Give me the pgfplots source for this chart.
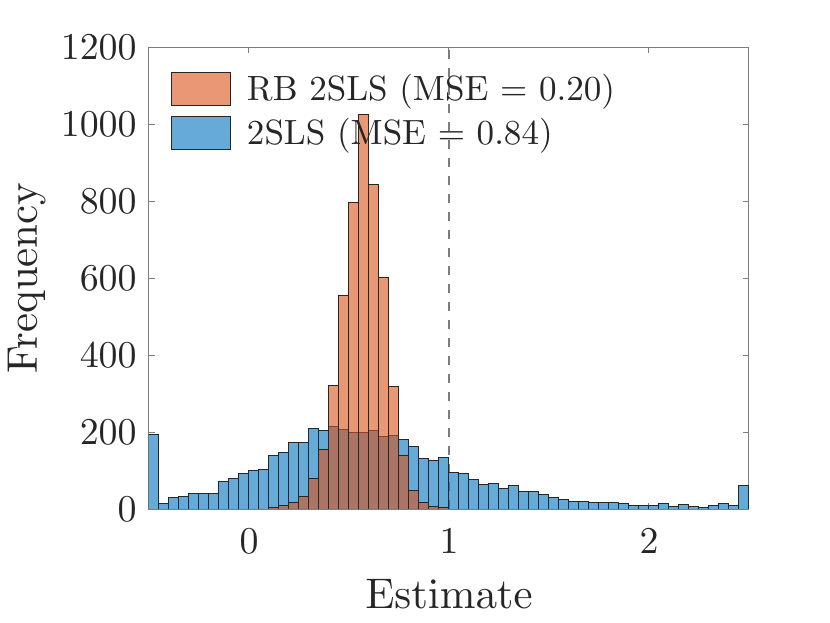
\documentclass[border=0pt]{standalone}
\usepackage{pgfplots}
\pgfplotsset{compat=1.18}
\definecolor{mblue}{RGB}{0,114,189}
\definecolor{morange}{RGB}{217,83,25}
\definecolor{axgray}{RGB}{125,125,125}
\definecolor{txt}{RGB}{38,38,38}
\font\tickf=cmr10 at 19pt
\font\labf=cmr10 at 21.5pt
\font\legf=cmr10 at 17.6pt
\begin{document}
\begin{tikzpicture}
\begin{axis}[
  scale only axis, width=300bp, height=230.85bp,
  xmin=-0.5, xmax=2.5, ymin=0, ymax=1200,
  xtick={0,1,2}, ytick={0,200,...,1200},
  /pgf/number format/assume math mode=true,
  /pgf/number format/set thousands separator={},
  tick align=inside, major tick length=3bp,
  axis line style={axgray, line width=0.5bp},
  every tick/.style={axgray, line width=0.5bp},
  tick label style={font=\tickf, text=txt},
  xticklabel style={anchor=base, inner sep=0pt, yshift=-22.4bp},
  yticklabel style={anchor=east, inner sep=0pt, xshift=-6bp},
  xlabel={Estimate}, ylabel={Frequency},
  label style={font=\labf, text=txt},
  xlabel style={at={(axis description cs:0.5,0)}, anchor=base, yshift=-49.5bp},
  ylabel style={at={([xshift=-56bp]axis description cs:0,0.5)}, anchor=base},
  legend style={at={(axis description cs:0,1)}, anchor=north west, xshift=11bp, yshift=-12.2bp,
    draw=none, fill=none, inner sep=0pt, outer sep=0pt,
    font=\legf, text=txt, column sep=8bp, row sep=5bp,
    nodes={inner sep=0pt}},
  legend cell align=left,
  reverse legend,
  legend image code/.code={\draw[#1] (0bp,-8.25bp) rectangle (29.5bp,8.25bp);},
]
\coordinate (O) at (rel axis cs:0,0);
\addplot[forget plot, color=axgray, line width=0.6bp, dash pattern=on 4.5bp off 4.5bp] coordinates {(1,0) (1,1200)};
\addplot[ybar interval, fill=mblue, fill opacity=0.6, draw=black!85, line width=0.5bp] coordinates {
(-0.50,194) (-0.45,15) (-0.40,30) (-0.35,32) (-0.30,41) (-0.25,41) (-0.20,41) (-0.15,72) (-0.10,79) (-0.05,91)
(0.00,100) (0.05,103) (0.10,138) (0.15,148) (0.20,172) (0.25,173) (0.30,210) (0.35,203) (0.40,214) (0.45,207)
(0.50,200) (0.55,198) (0.60,203) (0.65,188) (0.70,191) (0.75,181) (0.80,162) (0.85,130) (0.90,126) (0.95,135)
(1.00,95) (1.05,92) (1.10,77) (1.15,64) (1.20,66) (1.25,53) (1.30,60) (1.35,45) (1.40,45) (1.45,38)
(1.50,30) (1.55,25) (1.60,20) (1.65,20) (1.70,16) (1.75,16) (1.80,16) (1.85,14) (1.90,10) (1.95,10)
(2.00,9) (2.05,13) (2.10,6) (2.15,12) (2.20,6) (2.25,5) (2.30,10) (2.35,13) (2.40,8) (2.45,61)
(2.50,0)};
\addlegendentry{2SLS (MSE = 0.84)}
\addplot[ybar interval, fill=morange, fill opacity=0.6, draw=black!85, line width=0.5bp] coordinates {
(0.10,4) (0.15,9) (0.20,18) (0.25,33) (0.30,78) (0.35,155) (0.40,320) (0.45,556) (0.50,797) (0.55,1026)
(0.60,844) (0.65,602) (0.70,318) (0.75,139) (0.80,48) (0.85,17) (0.90,7) (0.95,3) (1.00,0)};
\addlegendentry{RB 2SLS (MSE = 0.20)}
\end{axis}
\pgfresetboundingbox
\path[use as bounding box] ([shift={(-74.5bp,-57bp)}]O) rectangle ++(415bp,311.5bp);
\end{tikzpicture}
\end{document}
